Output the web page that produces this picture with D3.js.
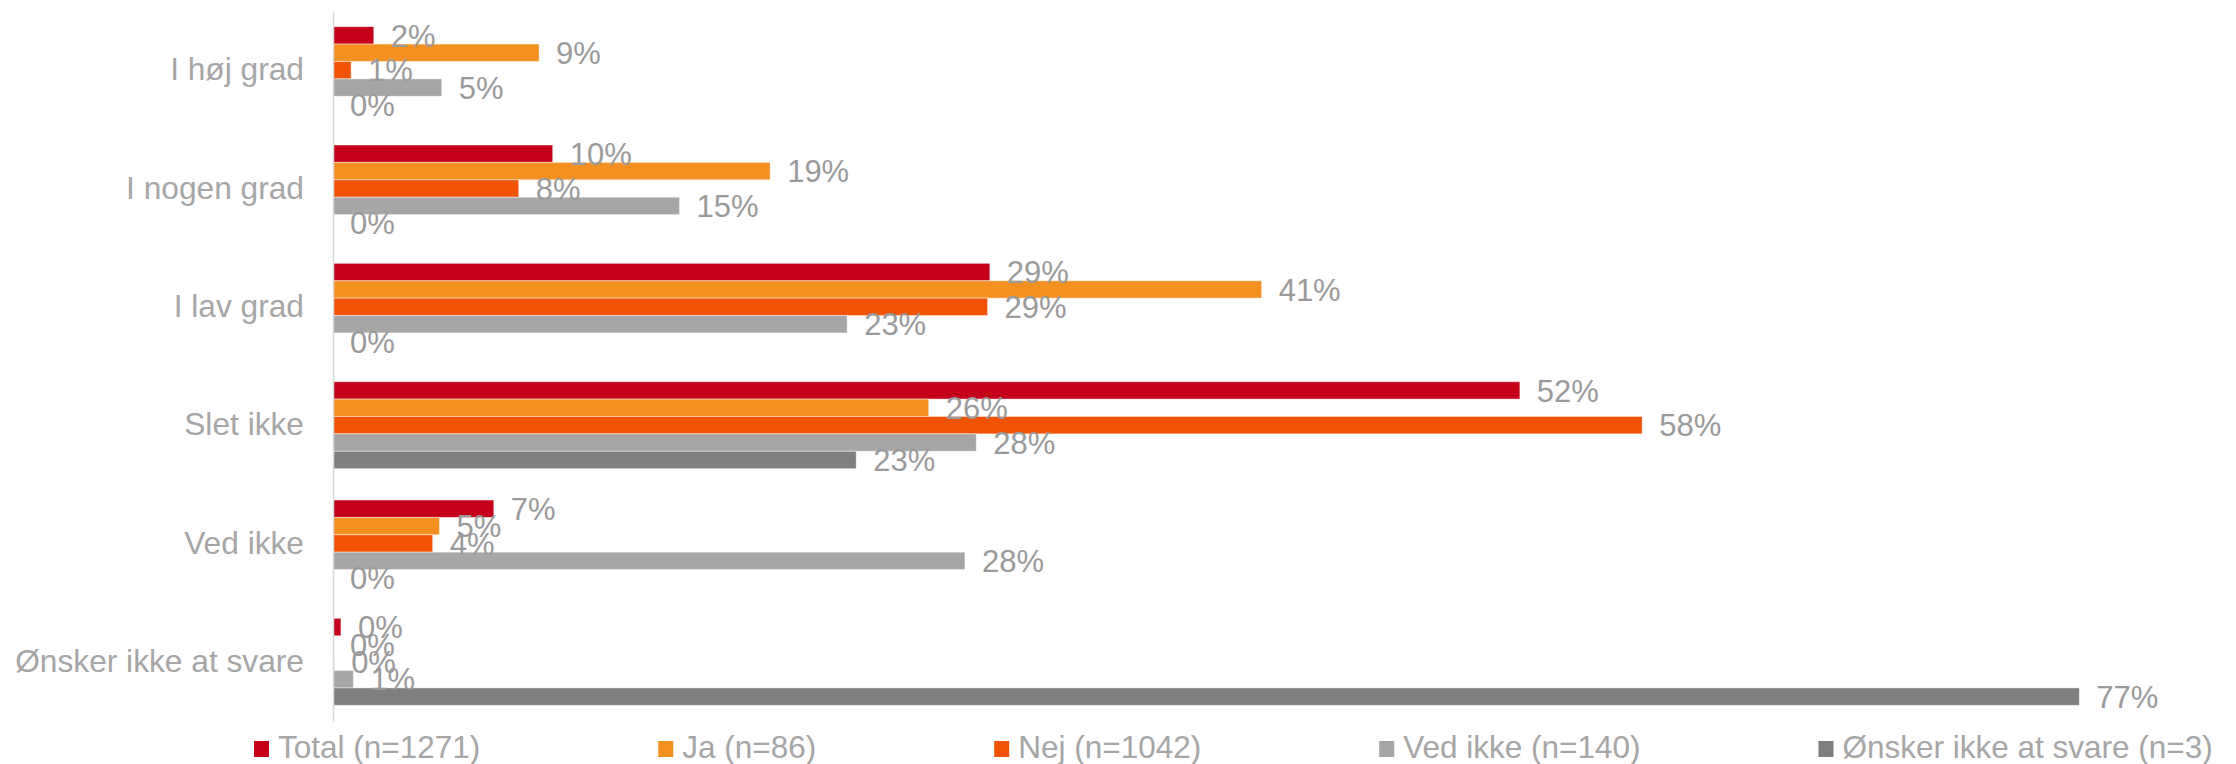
<!DOCTYPE html>
<html>
<head>
<meta charset="utf-8">
<script src="https://cdn.jsdelivr.net/npm/d3@7"></script>
<style>
    body { margin: 0; background: #fff; }
    text { font-family: 'Liberation Sans', Arial, sans-serif; }
</style>
</head>
<body>
<div id="vis"></div>
<script>
var categories = ['I høj grad', 'I nogen grad', 'I lav grad', 'Slet ikke', 'Ved ikke', 'Ønsker ikke at svare'];
var seriesNames = ['Total (n=1271)', 'Ja (n=86)', 'Nej (n=1042)', 'Ved ikke (n=140)', 'Ønsker ikke at svare (n=3)'];
var seriesColors = ['#c5001a', '#f39020', '#f05206', '#a6a6a6', '#7f7f7f'];

// one array per series, same order as categories
var total   = [0.018, 0.097, 0.290, 0.524, 0.071, 0.0035];
var ja      = [0.091, 0.193, 0.410, 0.263, 0.047, 0.000];
var nej     = [0.008, 0.082, 0.289, 0.578, 0.044, 0.0005];
var vedIkke = [0.048, 0.153, 0.227, 0.284, 0.279, 0.009];
var onsker  = [0.000, 0.000, 0.000, 0.231, 0.000, 0.771];

var seriesValues = [total, ja, nej, vedIkke, onsker];

var width = 2236, height = 764;

var svg = d3.select('#vis')
    .append('svg')
    .attr('width', width)
    .attr('height', height);

var xScale = d3.scaleLinear().domain([0, 0.8]).range([333, 2145]);

var yScale = d3.scaleBand()
    .domain(categories)
    .range([11, 721])
    .paddingInner(0.265)
    .paddingOuter(0.1325);

var subScale = d3.scaleBand()
    .domain(d3.range(seriesNames.length))
    .range([0, yScale.bandwidth()]);

var fmt = d3.format('.0%');

var rows = [];
categories.forEach(function(c, i) {
    seriesValues.forEach(function(vals, s) {
        rows.push({cat: c, s: s, value: vals[i]});
    });
});

// bars
svg.append('g').selectAll('rect')
    .data(rows)
    .enter().append('rect')
    .attr('x', xScale(0))
    .attr('y', function(d) { return yScale(d.cat) + subScale(d.s); })
    .attr('width', function(d) { return xScale(d.value) - xScale(0); })
    .attr('height', subScale.bandwidth())
    .attr('fill', function(d) { return seriesColors[d.s]; })
    .attr('stroke', 'rgba(255,255,255,0.45)')
    .attr('stroke-width', 1);

// vertical axis line + category labels
var yAxis = d3.axisLeft(yScale).tickSize(0).tickPadding(29);
var ag = svg.append('g')
    .attr('transform', 'translate(' + xScale(0) + ',0)')
    .call(yAxis);
ag.select('.domain').attr('stroke', '#d9d9d9').attr('stroke-width', 1.5);
ag.selectAll('text')
    .attr('fill', '#a6a6a6')
    .style('font-size', '31.7px')
    .style('font-family', "'Liberation Sans', Arial, sans-serif");

// value labels
svg.append('g').selectAll('text')
    .data(rows)
    .enter().append('text')
    .attr('x', function(d) { return xScale(d.value) + 17; })
    .attr('y', function(d) { return yScale(d.cat) + subScale(d.s) + subScale.bandwidth() / 2; })
    .attr('dy', '0.36em')
    .attr('fill', '#9a9a9a')
    .style('font-size', '31px')
    .text(function(d) { return fmt(d.value); });

// legend
var legend = svg.append('g').attr('class', 'legend');
var lx = 254;
seriesNames.forEach(function(name, i) {
    var item = legend.append('g').attr('transform', 'translate(' + lx + ',0)');
    item.append('rect')
        .attr('x', 0)
        .attr('y', 741)
        .attr('width', 15)
        .attr('height', 16)
        .attr('fill', seriesColors[i]);
    var t = item.append('text')
        .attr('x', 24)
        .attr('y', 758)
        .attr('fill', '#a6a6a6')
        .style('font-size', '31.5px')
        .text(name);
    lx += 24 + t.node().getComputedTextLength() + 178;
});
</script>
</body>
</html>
